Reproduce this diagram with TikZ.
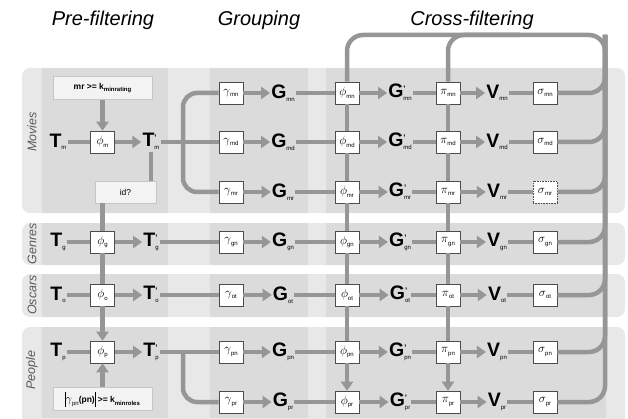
\documentclass[tikz,border=0pt]{standalone}
\usepackage{fontspec}
\setmainfont{Liberation Sans}
\usepackage{tikz}
\usetikzlibrary{positioning, arrows.meta}

\definecolor{flowgray}{RGB}{150,150,150}
\definecolor{bandgray}{RGB}{232,232,232}
\definecolor{colgray}{RGB}{219,219,219}
\definecolor{condgray}{RGB}{243,243,243}

\newcommand{\sub}[1]{\raisebox{-2.5pt}{\fontsize{6}{6}\selectfont #1}}
\newcommand{\rel}[2]{\textbf{#1}\sub{#2}}
\newcommand{\relp}[2]{\textbf{#1}\raisebox{-2.5pt}{\fontsize{6}{6}\selectfont\begin{tabular}[b]{@{}l@{}}\fontsize{8}{8}\selectfont\bfseries '\\[3pt] #2\end{tabular}}}
\newcommand{\op}[2]{$#1$\sub{#2}}
\newcommand{\absbar}{\rule[-4pt]{0.7pt}{15pt}}

\tikzset{
  flow/.style={draw=flowgray, line width=4.5pt},
  flowarrow/.style={flow, -{Triangle[length=9pt,width=12pt]}},
  opbox/.style={draw=black!70, fill=white, line width=0.6pt, minimum width=24pt, minimum height=22pt, inner sep=1pt, font=\fontsize{13}{13}\selectfont},
  relnode/.style={inner sep=1pt, font=\fontsize{19.5}{20}\selectfont},
  condbox/.style={draw=gray!45, fill=condgray, line width=0.6pt, minimum height=23pt, inner sep=2pt, font=\fontsize{8.5}{9}\selectfont},
  tablbl/.style={rotate=90, font=\fontsize{12.5}{13}\selectfont\itshape, text=black!65},
  phase/.style={font=\fontsize{20}{20}\selectfont\itshape},
}

\begin{document}
\begin{tikzpicture}[x=1pt, y=1pt]
  \useasboundingbox (0,0) rectangle (628,418);

  % table bands
  \fill[bandgray, rounded corners=8pt] (22,205) rectangle (625,350);
  \fill[bandgray, rounded corners=8pt] (22,153) rectangle (625,195);
  \fill[bandgray, rounded corners=8pt] (22,101) rectangle (625,144);
  \fill[bandgray, rounded corners=8pt] (22,-10) rectangle (625,91);
  \fill[colgray] (42,205) rectangle (168,350);
  \fill[colgray] (210,205) rectangle (308,350);
  \fill[colgray] (326,205) rectangle (606,350);
  \fill[colgray] (42,153) rectangle (168,195);
  \fill[colgray] (210,153) rectangle (308,195);
  \fill[colgray] (326,153) rectangle (606,195);
  \fill[colgray] (42,101) rectangle (168,144);
  \fill[colgray] (210,101) rectangle (308,144);
  \fill[colgray] (326,101) rectangle (606,144);
  \fill[colgray] (42,0) rectangle (168,91);
  \fill[colgray] (210,0) rectangle (308,91);
  \fill[colgray] (326,0) rectangle (606,91);

  \node[tablbl] (lblmovies) at (32,286) {Movies};
  \node[tablbl] (lblgenres) at (32,174) {Genres};
  \node[tablbl] (lbloscars) at (32,123) {Oscars};
  \node[tablbl] (lblpeople) at (32,48) {People};

  \node[phase] (prefilt) at (103,398) {Pre-filtering};
  \node[phase] (grouping) at (259,398) {Grouping};
  \node[phase] (crossfilt) at (472,398) {Cross-filtering};

  % pre-filtering
  \node[relnode] (Tm) at (58,276) {\rel{T}{m}};
  \node[opbox] (phim) at (102.5,276) {\op{\phi}{m}};
  \node[relnode] (Tpm) at (151,276) {\relp{T}{m}};
  \node[relnode] (Tg) at (58,176) {\rel{T}{g}};
  \node[opbox] (phig) at (102.5,176) {\op{\phi}{g}};
  \node[relnode] (Tpg) at (151,176) {\relp{T}{g}};
  \node[relnode] (To) at (58,123) {\rel{T}{o}};
  \node[opbox] (phio) at (102.5,123) {\op{\phi}{o}};
  \node[relnode] (Tpo) at (151,123) {\relp{T}{o}};
  \node[relnode] (Tp) at (58,66) {\rel{T}{p}};
  \node[opbox] (phip) at (102.5,66) {\op{\phi}{p}};
  \node[relnode] (Tpp) at (151,66) {\relp{T}{p}};

  \node[condbox, minimum width=99pt, above=31pt of phim] (mincond) {\textbf{mr >= k}\sub{\bfseries minrating}};
  \node[condbox, minimum width=61pt, minimum height=22pt] (idq) at (125.5,226) {id?};
  \node[condbox, minimum width=99pt, below=24pt of phip] (rolecond) {\absbar{\fontsize{11}{11}\selectfont$\gamma$}\sub{pn}\textbf{(pn)}\absbar\ \textbf{>= k}\sub{\bfseries minroles}};

  % grouping
  \node[opbox] (gamMN) at (231,325) {\op{\gamma}{mn}};
  \node[relnode] (GMN) at (283,325) {\rel{G}{mn}};
  \node[opbox] (gamMD) at (231,276) {\op{\gamma}{md}};
  \node[relnode] (GMD) at (283,276) {\rel{G}{md}};
  \node[opbox] (gamMR) at (231,226) {\op{\gamma}{mr}};
  \node[relnode] (GMR) at (283,226) {\rel{G}{mr}};
  \node[opbox] (gamGN) at (231,176) {\op{\gamma}{gn}};
  \node[relnode] (GGN) at (283,176) {\rel{G}{gn}};
  \node[opbox] (gamOT) at (231,123) {\op{\gamma}{ot}};
  \node[relnode] (GOT) at (283,123) {\rel{G}{ot}};
  \node[opbox] (gamPN) at (231,66) {\op{\gamma}{pn}};
  \node[relnode] (GPN) at (283,66) {\rel{G}{pn}};
  \node[opbox] (gamPR) at (231,16) {\op{\gamma}{pr}};
  \node[relnode] (GPR) at (283,16) {\rel{G}{pr}};

  % cross-filtering
  \node[opbox] (phiMN) at (347,325) {\op{\phi}{mn}};
  \node[relnode] (GpMN) at (400,325) {\relp{G}{mn}};
  \node[opbox] (piMN) at (448,325) {\op{\pi}{mn}};
  \node[relnode] (VMN) at (497,325) {\rel{V}{mn}};
  \node[opbox] (sigMN) at (545,325) {\op{\sigma}{mn}};
  \node[opbox] (phiMD) at (347,276) {\op{\phi}{md}};
  \node[relnode] (GpMD) at (400,276) {\relp{G}{md}};
  \node[opbox] (piMD) at (448,276) {\op{\pi}{md}};
  \node[relnode] (VMD) at (497,276) {\rel{V}{md}};
  \node[opbox] (sigMD) at (545,276) {\op{\sigma}{md}};
  \node[opbox] (phiMR) at (347,226) {\op{\phi}{mr}};
  \node[relnode] (GpMR) at (400,226) {\relp{G}{mr}};
  \node[opbox] (piMR) at (448,226) {\op{\pi}{mr}};
  \node[relnode] (VMR) at (497,226) {\rel{V}{mr}};
  \node[opbox, densely dotted] (sigMR) at (545,226) {\op{\sigma}{mr}};
  \node[opbox] (phiGN) at (347,176) {\op{\phi}{gn}};
  \node[relnode] (GpGN) at (400,176) {\relp{G}{gn}};
  \node[opbox] (piGN) at (448,176) {\op{\pi}{gn}};
  \node[relnode] (VGN) at (497,176) {\rel{V}{gn}};
  \node[opbox] (sigGN) at (545,176) {\op{\sigma}{gn}};
  \node[opbox] (phiOT) at (347,123) {\op{\phi}{ot}};
  \node[relnode] (GpOT) at (400,123) {\relp{G}{ot}};
  \node[opbox] (piOT) at (448,123) {\op{\pi}{ot}};
  \node[relnode] (VOT) at (497,123) {\rel{V}{ot}};
  \node[opbox] (sigOT) at (545,123) {\op{\sigma}{ot}};
  \node[opbox] (phiPN) at (347,66) {\op{\phi}{pn}};
  \node[relnode] (GpPN) at (400,66) {\relp{G}{pn}};
  \node[opbox] (piPN) at (448,66) {\op{\pi}{pn}};
  \node[relnode] (VPN) at (497,66) {\rel{V}{pn}};
  \node[opbox] (sigPN) at (545,66) {\op{\sigma}{pn}};
  \node[opbox] (phiPR) at (347,16) {\op{\phi}{pr}};
  \node[relnode] (GpPR) at (400,16) {\relp{G}{pr}};
  \node[opbox] (piPR) at (448,16) {\op{\pi}{pr}};
  \node[relnode] (VPR) at (497,16) {\rel{V}{pr}};
  \node[opbox] (sigPR) at (545,16) {\op{\sigma}{pr}};

  \coordinate (brm) at (183,276);
  \coordinate (brp) at (183,66);
  \coordinate (bustop) at (605,383);
  \coordinate (pibr) at (520,383);

  % pre-filtering flows
  \draw[flow] (Tm) -- (phim);
  \draw[flowarrow] (phim) -- (Tpm);
  \draw[flow] (Tg) -- (phig);
  \draw[flowarrow] (phig) -- (Tpg);
  \draw[flow] (To) -- (phio);
  \draw[flowarrow] (phio) -- (Tpo);
  \draw[flow] (Tp) -- (phip);
  \draw[flowarrow] (phip) -- (Tpp);
  \draw[flowarrow] (mincond) -- (phim);
  \draw[flowarrow] (rolecond) -- (phip);
  \draw[flow] (Tpm.south) -- (Tpm.south |- idq.north);
  \draw[flow] (idq.south -| phig.north) -- (phig.north);
  \draw[flow] (phig) -- (phio);
  \draw[flowarrow] (phio) -- (phip);

  % into grouping
  \draw[flow] (Tpm) -- (gamMD);
  \draw[flow, rounded corners=14pt] (brm) |- (gamMN.west);
  \draw[flow, rounded corners=14pt] (brm) |- (gamMR.west);
  \draw[flow] (Tpg) -- (gamGN);
  \draw[flow] (Tpo) -- (gamOT);
  \draw[flow] (Tpp) -- (gamPN);
  \draw[flow, rounded corners=14pt] (brp) |- (gamPR.west);

  % rows
  \draw[flowarrow] (gamMN) -- (GMN);
  \draw[flow] (GMN) -- (phiMN);
  \draw[flowarrow] (phiMN) -- (GpMN);
  \draw[flow] (GpMN) -- (piMN);
  \draw[flowarrow] (piMN) -- (VMN);
  \draw[flow] (VMN) -- (sigMN);
  \draw[flowarrow] (gamMD) -- (GMD);
  \draw[flow] (GMD) -- (phiMD);
  \draw[flowarrow] (phiMD) -- (GpMD);
  \draw[flow] (GpMD) -- (piMD);
  \draw[flowarrow] (piMD) -- (VMD);
  \draw[flow] (VMD) -- (sigMD);
  \draw[flowarrow] (gamMR) -- (GMR);
  \draw[flow] (GMR) -- (phiMR);
  \draw[flowarrow] (phiMR) -- (GpMR);
  \draw[flow] (GpMR) -- (piMR);
  \draw[flowarrow] (piMR) -- (VMR);
  \draw[flow] (VMR) -- (sigMR);
  \draw[flowarrow] (gamGN) -- (GGN);
  \draw[flow] (GGN) -- (phiGN);
  \draw[flowarrow] (phiGN) -- (GpGN);
  \draw[flow] (GpGN) -- (piGN);
  \draw[flowarrow] (piGN) -- (VGN);
  \draw[flow] (VGN) -- (sigGN);
  \draw[flowarrow] (gamOT) -- (GOT);
  \draw[flow] (GOT) -- (phiOT);
  \draw[flowarrow] (phiOT) -- (GpOT);
  \draw[flow] (GpOT) -- (piOT);
  \draw[flowarrow] (piOT) -- (VOT);
  \draw[flow] (VOT) -- (sigOT);
  \draw[flowarrow] (gamPN) -- (GPN);
  \draw[flow] (GPN) -- (phiPN);
  \draw[flowarrow] (phiPN) -- (GpPN);
  \draw[flow] (GpPN) -- (piPN);
  \draw[flowarrow] (piPN) -- (VPN);
  \draw[flow] (VPN) -- (sigPN);
  \draw[flowarrow] (gamPR) -- (GPR);
  \draw[flow] (GPR) -- (phiPR);
  \draw[flowarrow] (phiPR) -- (GpPR);
  \draw[flow] (GpPR) -- (piPR);
  \draw[flowarrow] (piPR) -- (VPR);
  \draw[flow] (VPR) -- (sigPR);

  % feedback bus
  \draw[flow, rounded corners=16pt] (sigPR.east) -| (bustop) -| (phiMN.north);
  \draw[flow, rounded corners=16pt] (pibr) -| (piMN.north);
  \draw[flow, rounded corners=16pt] (sigMN.east) -| (bustop);
  \draw[flow, rounded corners=16pt] (sigMD.east) -| (bustop);
  \draw[flow, rounded corners=16pt] (sigMR.east) -| (bustop);
  \draw[flow, rounded corners=16pt] (sigGN.east) -| (bustop);
  \draw[flow, rounded corners=16pt] (sigOT.east) -| (bustop);
  \draw[flow, rounded corners=16pt] (sigPN.east) -| (bustop);

  % cross-filter columns
  \draw[flow] (phiMN) -- (phiMD);
  \draw[flow] (phiMD) -- (phiMR);
  \draw[flow] (phiMR) -- (phiGN);
  \draw[flow] (phiGN) -- (phiOT);
  \draw[flow] (phiOT) -- (phiPN);
  \draw[flowarrow] (phiPN) -- (phiPR);
  \draw[flow] (piMN) -- (piMD);
  \draw[flow] (piMD) -- (piMR);
  \draw[flow] (piMR) -- (piGN);
  \draw[flow] (piGN) -- (piOT);
  \draw[flow] (piOT) -- (piPN);
  \draw[flowarrow] (piPN) -- (piPR);
\end{tikzpicture}
\end{document}
